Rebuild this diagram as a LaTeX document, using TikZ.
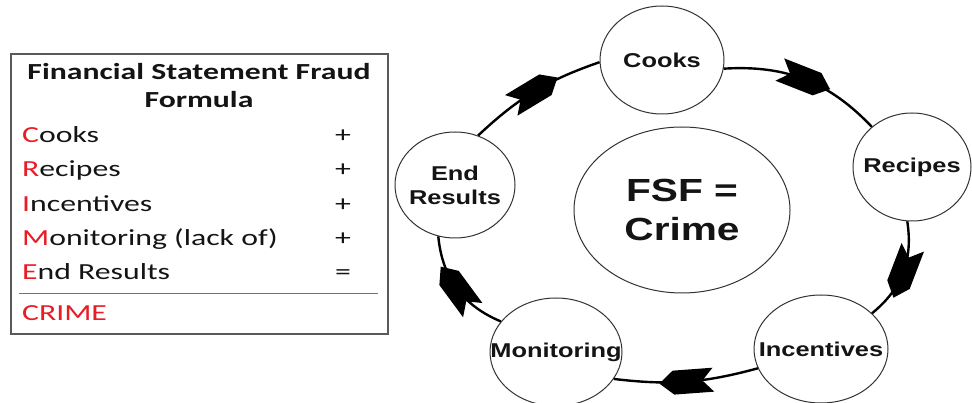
\documentclass[tikz,border=0pt]{standalone}
\usepackage{fontspec}
\usetikzlibrary{shapes.geometric,decorations.markings}
\newfontfamily\boxfont{Carlito}[FakeStretch=1.38]
\newfontfamily\diafont{Liberation Sans}[FakeStretch=1.27]
\definecolor{fsfred}{RGB}{232,28,36}
\definecolor{ink}{RGB}{20,20,20}
\begin{document}
\begin{tikzpicture}[x=1pt,y=-1pt,
  stage/.style={ellipse, draw=black!80, line width=1pt, fill=white, inner sep=0pt},
  stagetext/.style={inner sep=0pt, font=\diafont\bfseries\fontsize{20}{24}\selectfont, text=ink, align=center},
  ring/.style={line width=2.4pt, draw=black, postaction={decorate},
    decoration={markings, mark=at position 0.5 with {\fill[black] (27pt,0pt) -- (13pt,12pt) -- (-27pt,12pt) -- (-16pt,0pt) -- (-27pt,-12pt) -- (13pt,-12pt) -- cycle;}}},
  item/.style={anchor=base west, inner sep=0pt, font=\boxfont\fontsize{23}{27}\selectfont, text=ink},
  op/.style={anchor=base, inner sep=0pt, font=\boxfont\fontsize{23}{27}\selectfont, text=ink},
  head/.style={anchor=base, inner sep=0pt, font=\boxfont\bfseries\fontsize{23}{27}\selectfont, text=ink}
]
\useasboundingbox (0,0) rectangle (972,403);

% left formula box
\node[draw=black!65, line width=1.6pt, minimum width=377pt, minimum height=280pt, inner sep=0pt, anchor=north west] (box) at (10,53) {};
\coordinate (sepL) at (19,294);
\coordinate (sepR) at (378,294);
\draw[black!55, line width=1pt] (sepL) -- (sepR);
\node[head] (t1) at (199,80) {Financial Statement Fraud};
\node[head] (t2) at (199,108) {Formula};
\node[item] (i1) at (22,143) {\textcolor{fsfred}{C}ooks};
\node[item] (i2) at (22,177) {\textcolor{fsfred}{R}ecipes};
\node[item] (i3) at (22,212) {\textcolor{fsfred}{I}ncentives};
\node[item] (i4) at (22,246) {\textcolor{fsfred}{M}onitoring (lack of)};
\node[item] (i5) at (22,280) {\textcolor{fsfred}{E}nd Results};
\node[item, text=fsfred] (i6) at (22,320) {CRIME};
\node[op] (o1) at (343,143) {+};
\node[op] (o2) at (343,177) {+};
\node[op] (o3) at (343,212) {+};
\node[op] (o4) at (343,246) {+};
\node[op] (o5) at (343,280) {=};

% cycle diagram
\node[stage, minimum width=124pt, minimum height=108pt, label={[stagetext]center:Cooks}] (cooks) at (662,60) {};
\node[stage, minimum width=118pt, minimum height=108pt, label={[stagetext]center:Recipes}] (recipes) at (912,167) {};
\node[stage, minimum width=134pt, minimum height=108pt, label={[stagetext]center:Incentives}] (incent) at (821,349) {};
\node[stage, minimum width=132pt, minimum height=108pt, label={[stagetext]center:Monitoring}] (monit) at (556,352) {};
\node[stage, minimum width=120pt, minimum height=106pt, label={[stagetext]center:End\\Results}] (endres) at (455,185) {};
\node[stage, minimum width=216pt, minimum height=166pt,
  label={[stagetext, font=\diafont\bfseries\fontsize{32}{39}\selectfont]center:FSF =\\Crime}] (fsf) at (682,210) {};

\draw[ring] (cooks.-8) to[bend left=25] (recipes.135);
\draw[ring] (recipes.-95) to[bend left=30] (incent.35);
\draw[ring] (incent.197) to[bend left=11] (monit.-25);
\draw[ring] (monit.151) to[bend left=31] (endres.252);
\draw[ring] (endres.65) to[bend left=12] (cooks.182);
\end{tikzpicture}
\end{document}
